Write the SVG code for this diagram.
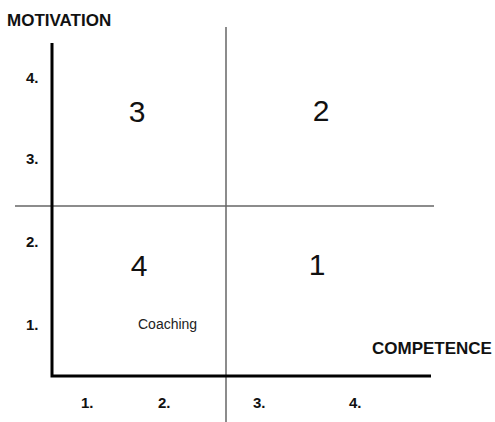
<svg xmlns="http://www.w3.org/2000/svg" width="495" height="422" viewBox="0 0 495 422">
<style>
.lbl{font-family:"Liberation Sans",Arial,sans-serif;font-weight:bold;fill:#111}
.tick{font-family:"Liberation Sans",Arial,sans-serif;font-weight:bold;font-size:15px;fill:#111}
.q{font-family:"Liberation Sans",Arial,sans-serif;font-size:30px;fill:#111;text-anchor:middle}
.axis{stroke:#000;stroke-width:3;fill:none}
.grid{stroke:#666;stroke-width:1.5;fill:none}
</style>
<rect width="495" height="422" fill="#fff"/>
<g id="connectors">
<line class="grid" x1="226" y1="27" x2="226" y2="422"/>
<line class="grid" x1="15" y1="206" x2="434" y2="206"/>
<polyline class="axis" points="52,43 52,376 431,376"/>
</g>
<g id="axis-y-label"><text class="lbl" x="7" y="26" font-size="17">MOTIVATION</text></g>
<g id="axis-x-label"><text class="lbl" x="372" y="354" font-size="17">COMPETENCE</text></g>
<g id="y-ticks">
<text class="tick" x="26" y="83">4.</text>
<text class="tick" x="26" y="164">3.</text>
<text class="tick" x="26" y="247">2.</text>
<text class="tick" x="26" y="330">1.</text>
</g>
<g id="x-ticks">
<text class="tick" x="81" y="408">1.</text>
<text class="tick" x="158" y="408">2.</text>
<text class="tick" x="253" y="408">3.</text>
<text class="tick" x="349" y="408">4.</text>
</g>
<g id="q3"><text class="q" x="137" y="122">3</text></g>
<g id="q2"><text class="q" x="321" y="121">2</text></g>
<g id="q4"><text class="q" x="139" y="276">4</text></g>
<g id="q1"><text class="q" x="317" y="275">1</text></g>
<g id="coaching"><text x="138" y="329" font-family="Liberation Sans,Arial,sans-serif" font-size="14" fill="#222">Coaching</text></g>
</svg>
